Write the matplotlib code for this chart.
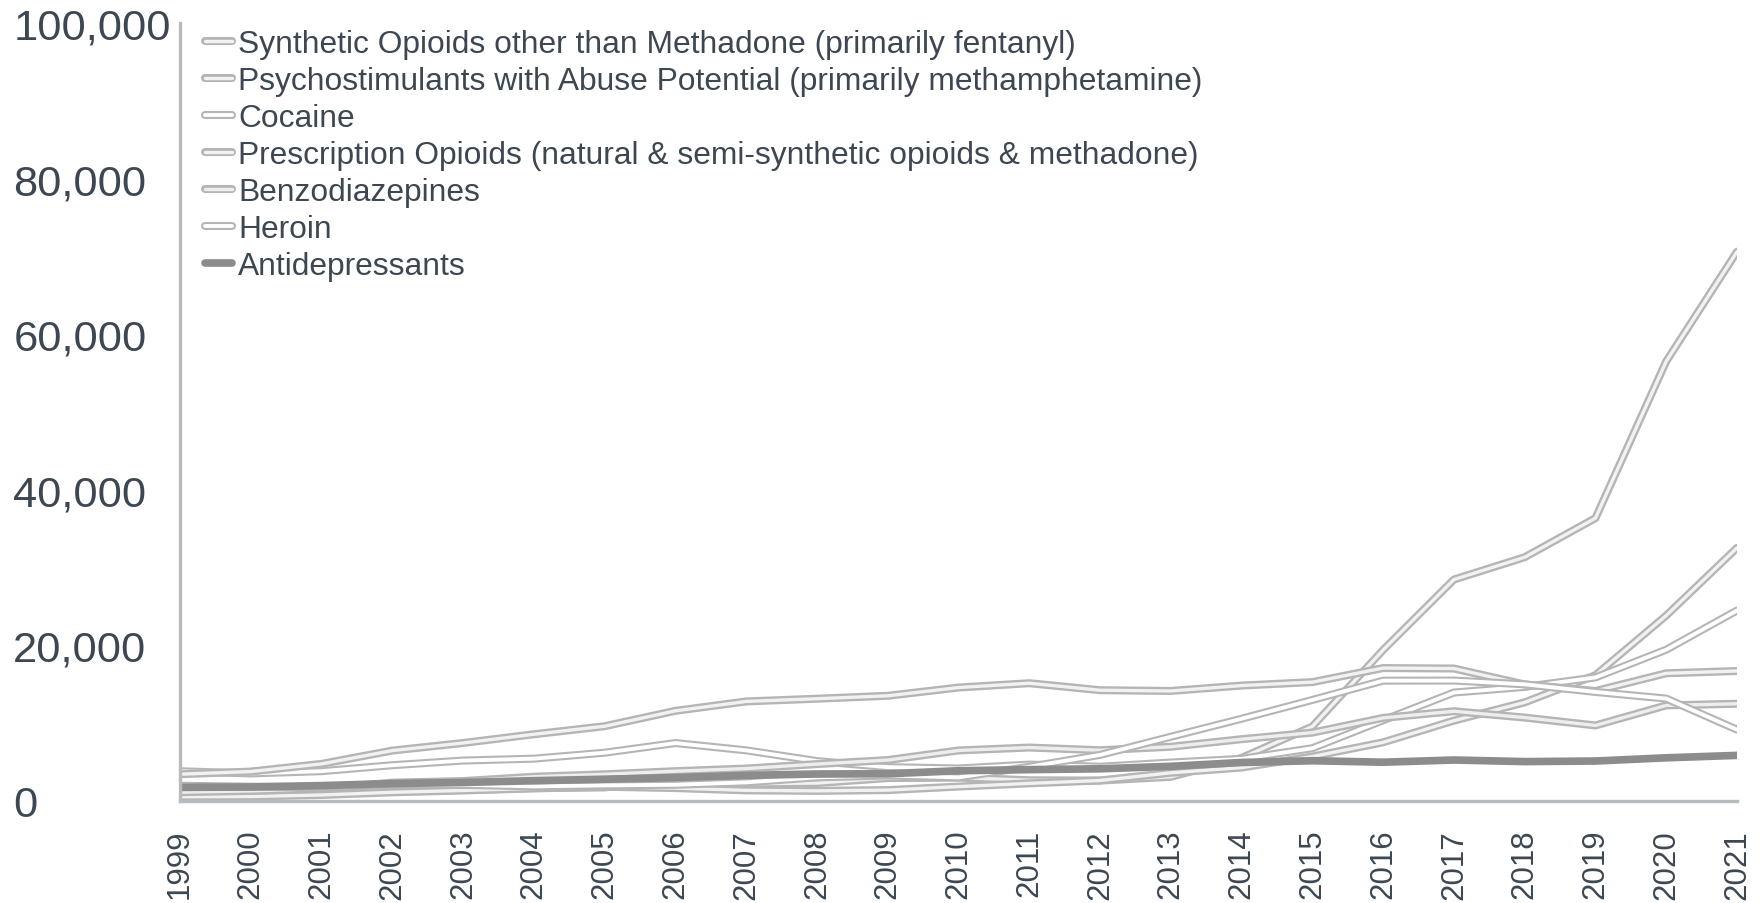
import matplotlib
matplotlib.use("Agg")
import matplotlib.pyplot as plt
import matplotlib.patheffects as pe

years = list(range(1999, 2022))

synthetic = [730, 782, 957, 1295, 1400, 1664, 1742, 2707, 2213, 2306, 2946, 3007,
             2666, 2628, 3105, 5544, 9580, 19413, 28466, 31335, 36359, 56516, 70601]
psychostim = [547, 578, 775, 1116, 1354, 1617, 1829, 1657, 1367, 1302, 1401, 1854,
              2266, 2635, 3627, 4298, 5716, 7542, 10333, 12676, 16167, 23837, 32537]
cocaine = [3822, 3544, 3833, 4599, 5199, 5443, 6208, 7448, 6512, 5129, 4350, 4183,
           4681, 4404, 4944, 5415, 6784, 10375, 13942, 14666, 15883, 19447, 24486]
prescription = [3442, 3785, 4770, 6483, 7456, 8577, 9612, 11589, 12796, 13149, 13523, 14583,
                15140, 14240, 14145, 14838, 15281, 17087, 17029, 14975, 14139, 16416, 16706]
benzo = [1135, 1298, 1594, 2358, 2563, 3122, 3432, 3835, 4173, 4747, 5262, 6497,
         6872, 6524, 6973, 7945, 8791, 10684, 11537, 10724, 9711, 12290, 12499]
heroin = [1960, 1842, 1779, 2089, 2080, 1878, 2009, 2088, 2399, 3041, 3278, 3036,
          4397, 5925, 8257, 10574, 12989, 15469, 15482, 14996, 14019, 13165, 9173]
antidep = [1749, 1803, 1979, 2245, 2383, 2608, 2799, 3012, 3292, 3471, 3500, 3889,
           4032, 4140, 4458, 4950, 5176, 4985, 5269, 5064, 5138, 5553, 5863]

labels = [
    "Synthetic Opioids other than Methadone (primarily fentanyl)",
    "Psychostimulants with Abuse Potential (primarily methamphetamine)",
    "Cocaine",
    "Prescription Opioids (natural & semi-synthetic opioids & methadone)",
    "Benzodiazepines",
    "Heroin",
    "Antidepressants",
]
series = [synthetic, psychostim, cocaine, prescription, benzo, heroin, antidep]
yticks = [0, 20000, 40000, 60000, 80000, 100000]

plt.rcParams['font.family'] = ['Liberation Sans', 'DejaVu Sans']
text_color = '#3d4752'
spine_color = '#b8bbbe'

fig = plt.figure(figsize=(17.62, 9.04), dpi=100)
ax = fig.add_axes([180/1762, 102/904, (1737-180)/1762, (802-24)/904])

outline = '#b5b5b5'
inner_cols = ['#f2f2f2', '#f2f2f2', 'white', '#f2f2f2', '#eeeeee', 'white']
inner_lw = [2.4, 2.4, 2.8, 2.4, 2.4, 2.8]
for i, (lab, vals) in enumerate(zip(labels[:-1], series[:-1])):
    ax.plot(years, vals, color=inner_cols[i], lw=inner_lw[i], label=lab,
            solid_capstyle='round', solid_joinstyle='round',
            path_effects=[pe.Stroke(linewidth=5.8, foreground=outline), pe.Normal()])
ax.plot(years, antidep, color='#8c8c8c', lw=5.5, label=labels[-1],
        solid_capstyle='round', solid_joinstyle='round')

ax.set_xlim(1999, 2021)
ax.set_ylim(0, 100000)
ax.set_xticks(years)
ax.set_xticklabels([str(y) for y in years], rotation=90, fontsize=22.5, color=text_color)
ax.set_yticks(yticks)
ax.set_yticklabels([f"{v:,}" for v in yticks], fontsize=31.3, color=text_color)
for t in ax.get_yticklabels():
    t.set_horizontalalignment('left')
ax.tick_params(axis='y', length=0, pad=120)
ax.tick_params(axis='x', length=0, pad=20)

for s in ['top', 'right']:
    ax.spines[s].set_visible(False)
for s in ['left', 'bottom']:
    ax.spines[s].set_color(spine_color)
    ax.spines[s].set_linewidth(2.4)

leg = ax.legend(loc='upper left', bbox_to_anchor=(205/1762, 1 - 30/904),
                bbox_transform=fig.transFigure, frameon=False, fontsize=22.9,
                handlelength=0.85, handletextpad=0.2, labelspacing=0.22,
                borderpad=0, borderaxespad=0, labelcolor=text_color)

fig.savefig("out.png", dpi=100, facecolor='white')
